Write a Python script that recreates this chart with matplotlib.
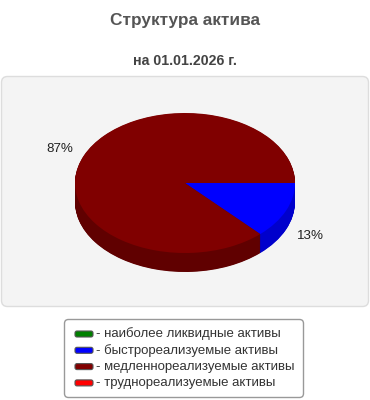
import matplotlib
matplotlib.use("Agg")
import matplotlib.pyplot as plt
from matplotlib.patches import FancyBboxPatch
import numpy as np

W, H, DPI = 370, 400, 100

title = "Структура актива"
subtitle = "на 01.01.2026 г."
categories = [
    "наиболее ликвидные активы",
    "быстрореализуемые активы",
    "медленнореализуемые активы",
    "труднореализуемые активы",
]
values = [0, 13, 87, 0]
top_colors = ["#008000", "#0000ff", "#800000", "#ff0000"]
side_colors = ["#006000", "#0000cc", "#600000", "#cc0000"]

plt.rcParams["font.family"] = ["Liberation Sans", "DejaVu Sans"]

fig = plt.figure(figsize=(W / DPI, H / DPI), dpi=DPI)

# fond en pixels (origine en haut à gauche)
bg = fig.add_axes([0, 0, 1, 1])
bg.set_xlim(0, W)
bg.set_ylim(H, 0)
bg.axis("off")

bg.text(185, 21, title, ha="center", va="center", fontsize=12.4,
        fontweight="bold", color="#555555")
bg.text(185, 61, subtitle, ha="center", va="center", fontsize=10.2,
        fontweight="bold", color="#444444")

panel = FancyBboxPatch((1.5, 76.5), 367, 230,
                       boxstyle="round,pad=0,rounding_size=6",
                       fc="#f4f4f4", ec="#dddddd", lw=1)
bg.add_patch(panel)

# camembert "3D" : ellipse rx=110, ry=70 px, épaisseur 19 px
cx, cy, rx, ry, depth = 185, 183, 110, 70, 19
dz = depth / ry
xl, yl_lo, yl_hi = 1.3, -1.6, 1.3
ax = fig.add_axes([(cx - xl * rx) / W, (H - cy + yl_lo * ry) / H,
                   2 * xl * rx / W, (yl_hi - yl_lo) * ry / H])

for d in np.linspace(dz, 0, 40)[:-1]:
    ax.pie(values, colors=side_colors, startangle=0, counterclock=False,
           center=(0, -d), wedgeprops=dict(linewidth=0))
ax.pie(values, colors=top_colors, startangle=0, counterclock=False,
       wedgeprops=dict(linewidth=0))

ax.set_aspect("auto")
ax.set_xlim(-xl, xl)
ax.set_ylim(yl_lo, yl_hi)
ax.axis("off")

# étiquettes en %
total = sum(values)
start = 0.0
for v in values:
    if v > 0:
        mid = np.deg2rad(-(start + v / 2) / total * 360)
        x, y = 1.24 * np.cos(mid), 1.24 * np.sin(mid)
        if y < 0:
            y -= dz
        ax.text(x, y, f"{v}%", ha="center", va="center", fontsize=9.6,
                color="#222222")
    start += v

# légende
bg.add_patch(FancyBboxPatch((64.5, 319.5), 239, 78,
                            boxstyle="round,pad=0,rounding_size=4",
                            fc="white", ec="#999999", lw=1))
for i, (cat, col) in enumerate(zip(categories, top_colors)):
    yy = 334 + 16.3 * i
    bg.add_patch(FancyBboxPatch((75, yy - 3), 18, 6,
                                boxstyle="round,pad=0,rounding_size=2",
                                fc=col, ec="#555555", lw=0.8))
    bg.text(96, yy, "- " + cat, ha="left", va="center", fontsize=9.5,
            color="#333333")

fig.savefig("out.png", dpi=DPI)
